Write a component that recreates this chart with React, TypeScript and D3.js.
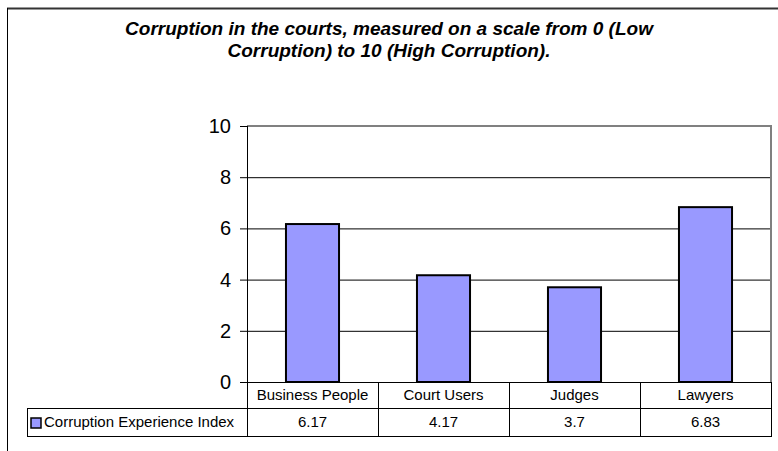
import React from "react";
import * as d3 from "d3";

// chart data
const categories = ["Business People", "Court Users", "Judges", "Lawyers"];
const values = [6.17, 4.17, 3.7, 6.83];
const valueLabels = ["6.17", "4.17", "3.7", "6.83"];
const seriesName = "Corruption Experience Index";
const yTicks = [0, 2, 4, 6, 8, 10];
const titleLines = [
  "Corruption in the courts, measured on a scale from 0 (Low",
  "Corruption) to 10 (High Corruption).",
];

const W = 778;
const H = 451;
const FONT = "'Liberation Sans', Arial, sans-serif";
const BAR_FILL = "#9999FF";

const plot = { left: 247, right: 771, top: 126, bottom: 382 };
const table = { left: 27, row1: 408, row2: 436 };

const App = () => {
  const x = d3.scaleBand().domain(categories).range([plot.left, plot.right]).padding(0);
  const y = d3.scaleLinear().domain([0, 10]).range([plot.bottom, plot.top]);
  const barW = x.bandwidth() * 0.405;

  return (
    <svg
      width={W}
      height={H}
      style={{ position: "absolute", left: 0, top: 0, background: "#fff" }}
      fontFamily={FONT}
    >
      {/* outer frame */}
      <line x1={7} x2={W} y1={8.5} y2={8.5} stroke="#333" strokeWidth={2} />
      <line x1={7.5} x2={7.5} y1={8} y2={H} stroke="#000" strokeWidth={1} />

      {/* title */}
      {titleLines.map((t, i) => (
        <text
          key={i}
          x={389}
          y={35 + i * 22}
          textAnchor="middle"
          fontSize={19}
          fontWeight="bold"
          fontStyle="italic"
          fill="#000"
        >
          {t}
        </text>
      ))}

      {/* gridlines */}
      {yTicks.filter((t) => t > 0 && t < 10).map((t) => (
        <line key={t} x1={plot.left} x2={plot.right} y1={y(t) + 0.5} y2={y(t) + 0.5} stroke="#000" />
      ))}
      {/* plot frame top / right (gray) */}
      <line x1={plot.left} x2={plot.right + 1} y1={y(10)} y2={y(10)} stroke="#808080" strokeWidth={2} />
      <line x1={plot.right} x2={plot.right} y1={plot.top} y2={plot.bottom} stroke="#808080" strokeWidth={2} />

      {/* bars */}
      {categories.map((c, i) => (
        <rect
          key={c}
          x={x(c)! + x.bandwidth() / 2 - barW / 2}
          y={y(values[i])}
          width={barW}
          height={plot.bottom - y(values[i])}
          fill={BAR_FILL}
          stroke="#000"
          strokeWidth={2}
        />
      ))}

      {/* y axis */}
      <line x1={plot.left + 0.5} x2={plot.left + 0.5} y1={plot.top} y2={plot.bottom} stroke="#000" />
      {yTicks.map((t) => (
        <g key={t}>
          <line x1={240} x2={plot.left} y1={y(t) + 0.5} y2={y(t) + 0.5} stroke="#000" />
          <text x={231} y={y(t) + 7} textAnchor="end" fontSize={20} fill="#000">
            {t}
          </text>
        </g>
      ))}

      {/* x axis */}
      <line x1={plot.left} x2={plot.right} y1={plot.bottom + 0.5} y2={plot.bottom + 0.5} stroke="#000" />

      {/* data table */}
      <line x1={table.left} x2={plot.right} y1={table.row1 + 0.5} y2={table.row1 + 0.5} stroke="#000" />
      <line x1={table.left} x2={plot.right} y1={table.row2 + 0.5} y2={table.row2 + 0.5} stroke="#000" />
      <line x1={table.left + 0.5} x2={table.left + 0.5} y1={table.row1} y2={table.row2 + 1} stroke="#000" />
      {[...categories.map((c) => x(c)!), plot.right].map((v, i) => (
        <line key={i} x1={v + 0.5} x2={v + 0.5} y1={plot.bottom} y2={table.row2 + 1} stroke="#000" />
      ))}
      {categories.map((c, i) => (
        <g key={c}>
          <text x={x(c)! + x.bandwidth() / 2} y={400} textAnchor="middle" fontSize={15} fill="#000">
            {c}
          </text>
          <text x={x(c)! + x.bandwidth() / 2} y={427} textAnchor="middle" fontSize={15} fill="#000">
            {valueLabels[i]}
          </text>
        </g>
      ))}

      {/* legend key */}
      <rect x={31} y={418} width={10} height={10} fill={BAR_FILL} stroke="#000" strokeWidth={1.5} />
      <text x={44} y={427} fontSize={15} fill="#000">
        {seriesName}
      </text>
    </svg>
  );
};

export default App;
